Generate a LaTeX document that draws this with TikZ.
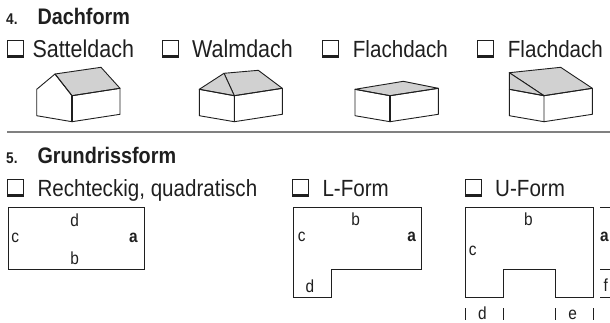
\documentclass[tikz,border=0pt]{standalone}
\usepackage{fontspec}
\setmainfont{Liberation Sans}[FakeStretch=0.88]
\definecolor{roof}{gray}{0.82}
\definecolor{ink}{gray}{0.12}
\tikzset{
  x=1pt,y=-1pt,
  every node/.style={inner sep=0pt,text=ink},
  opt/.style={anchor=base west,font=\fontsize{24.4}{26}\selectfont},
  optb/.style={anchor=base west,font=\fontsize{23.4}{25}\selectfont},
  head/.style={anchor=base west,font=\fontsize{22.5}{25}\selectfont\bfseries},
  num/.style={anchor=base west,font=\fontsize{15.5}{17}\selectfont\bfseries},
  lab/.style={anchor=base,font=\fontsize{17.5}{19}\selectfont},
  labb/.style={lab,font=\fontsize{17.5}{19}\selectfont\bfseries},
  wall/.style={draw=ink,line width=0.9pt,line join=round},
  roofp/.style={wall,fill=roof},
  plan/.style={draw=ink,line width=0.9pt,line join=miter},
  tick/.style={draw=ink,line width=0.9pt},
  rule/.style={draw=black!50,line width=2pt},
}
\newcommand{\cbx}[2]{%
  \draw[draw=ink,line width=0.8pt] (#1,#2) rectangle ++(16.3,17);
  \fill[ink] (#1-0.4,#2+14.8) rectangle ++(17.1,2.8);}
\begin{document}
\begin{tikzpicture}
\useasboundingbox (0,0) rectangle (610,322);
% section 4
\node[num] (n4) at (6,24) {4.};
\node[head] (h4) at (37.3,24) {Dachform};
\cbx{6.9}{40}\cbx{161.9}{40}\cbx{321.9}{40}\cbx{476.9}{40}
\node[opt] (o1) at (32.3,57.5) {Satteldach};
\node[opt] (o2) at (192,57.5) {Walmdach};
\node[optb] (o3) at (352.7,57.5) {Flachdach};
\node[optb] (o4) at (507.7,57.5) {Flachdach};
% house 1
\path[roofp] (55,74) -- (101,67.3) -- (120,88.3) -- (72,95.7) -- cycle;
\path[wall] (36.7,89.3) -- (55,74) -- (72,95.7) -- (72,121.7) -- (36.7,115.7) -- cycle;
\path[wall] (72,95.7) -- (120,88.3) -- (120,114.3) -- (72,121.7);
\draw[draw=ink,line width=1.3pt] (72,95.7) -- (72,121.7);
% house 2
\path[roofp] (224,73.3) -- (258.3,70.3) -- (282.3,88.3) -- (234.3,95.7) -- cycle;
\path[roofp] (199.3,89.3) -- (224,73.3) -- (234.3,95.7) -- cycle;
\path[wall] (199.3,89.3) -- (234.3,95.7) -- (234.3,121.7) -- (199.3,115.7) -- cycle;
\path[wall] (234.3,95.7) -- (282.3,88.3) -- (282.3,114.3) -- (234.3,121.7);
% house 3
\path[roofp] (355,89.3) -- (403.3,81.3) -- (438.3,88.3) -- (390,95.7) -- cycle;
\path[wall] (355,89.3) -- (390,95.7) -- (390,121.7) -- (355,115.7) -- cycle;
\path[wall] (390,95.7) -- (438.3,88.3) -- (438.3,114.3) -- (390,121.7);
\draw[draw=ink,line width=1.3pt] (390,95.7) -- (390,121.7);
% house 4
\path[roofp] (509.3,72.7) -- (560.7,67.3) -- (592.3,88.3) -- (544,95.7) -- cycle;
\path[roofp] (509.3,72.7) -- (544,95.7) -- (509.3,89.3) -- cycle;
\path[wall] (509.3,89.3) -- (544,95.7) -- (544,121.7) -- (509.3,115.7) -- cycle;
\path[wall] (544,95.7) -- (592.3,88.3) -- (592.3,114.3) -- (544,121.7);
% rule
\draw[rule] (7,131.7) -- (610,131.7);
% section 5
\node[num] (n5) at (6,163.5) {5.};
\node[head] (h5) at (37.3,163.5) {Grundrissform};
\cbx{6.9}{179.5}\cbx{292.5}{179.5}\cbx{465.2}{179.5}
\node[optb] (p1) at (37.3,196.8) {Rechteckig, quadratisch};
\node[optb] (p2) at (322.3,196.8) {L-Form};
\node[optb] (p3) at (495,196.8) {U-Form};
% rectangle plan
\draw[plan] (8,207.5) rectangle (144.3,269);
\node[lab] (rd) at (74.7,226.7) {d};
\node[lab] (rc) at (15.3,242.3) {c};
\node[labb] (ra) at (133.3,242.3) {a};
\node[lab] (rb) at (74.7,264.3) {b};
% L plan
\draw[plan] (293.3,207.7) -- (421.7,207.7) -- (421.7,269) -- (331.7,269) -- (331.7,297.7) -- (293.3,297.7) -- cycle;
\node[lab] (lb) at (355.7,225.7) {b};
\node[lab] (lc) at (301.7,241.7) {c};
\node[labb] (la) at (411.7,241.7) {a};
\node[lab] (ld) at (310,292.7) {d};
% U plan
\draw[plan] (465,207.7) -- (593.3,207.7) -- (593.3,297.7) -- (555.7,297.7) -- (555.7,269) -- (503.3,269) -- (503.3,297.7) -- (465,297.7) -- cycle;
\node[lab] (ub) at (528.3,225.7) {b};
\node[lab] (uc) at (472.7,255) {c};
\node[labb] (ua) at (604.5,241.7) {a};
\node[lab] (uf) at (605.7,291.5) {f};
\node[lab] (ud) at (482.3,319.3) {d};
\node[lab] (ue) at (572.7,319.3) {e};
% dimension ticks
\draw[tick] (600,207.7) -- (610,207.7);
\draw[tick] (600,269) -- (610,269);
\draw[tick] (600,297.7) -- (610,297.7);
\draw[tick] (465,308.3) -- (465,320);
\draw[tick] (503.3,308.3) -- (503.3,320);
\draw[tick] (555.7,308.3) -- (555.7,320);
\draw[tick] (593.3,308.3) -- (593.3,320);
\end{tikzpicture}
\end{document}
